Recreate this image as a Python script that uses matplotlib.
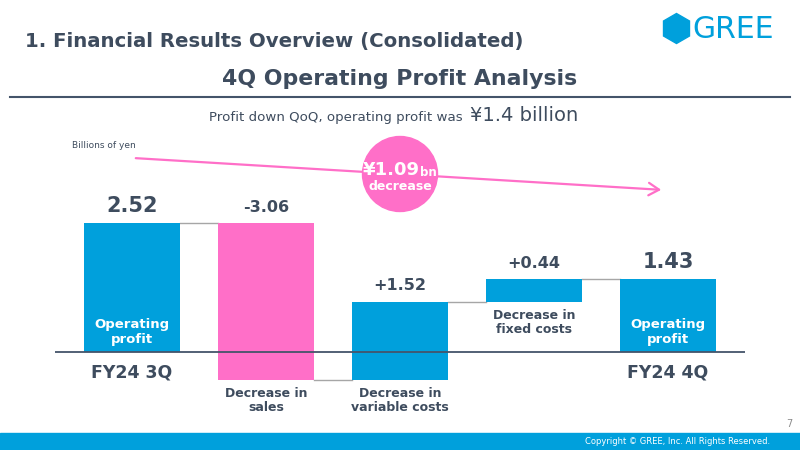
import matplotlib.pyplot as plt
from matplotlib.patches import Circle, RegularPolygon, Rectangle, FancyArrowPatch

plt.rcParams['font.family'] = ['DejaVu Sans']

BLUE = '#00A0DC'
PINK = '#FF6FC8'
TXT = '#3E4C5E'
GRAY = '#A6A6A6'

# data
categories = ['FY24 3Q', 'Decrease in\nsales', 'Decrease in\nvariable costs',
              'Decrease in\nfixed costs', 'FY24 4Q']
values = [2.52, -3.06, 1.52, 0.44, 1.43]
value_labels = ['2.52', '-3.06', '+1.52', '+0.44', '1.43']
is_total = [True, False, False, False, True]
bar_colors = [BLUE, PINK, BLUE, BLUE, BLUE]

# waterfall bottoms / heights
bottoms, heights, ends = [], [], []
run = 0.0
for v, t in zip(values, is_total):
    start = 0.0 if t else run
    end = v if t else run + v
    bottoms.append(min(start, end))
    heights.append(abs(v))
    ends.append(end)
    run = end

fig = plt.figure(figsize=(8, 4.5), dpi=100)

# slide background layer in pixel coords
bg = fig.add_axes([0, 0, 1, 1], zorder=0)
bg.set_xlim(0, 800)
bg.set_ylim(450, 0)
bg.axis('off')

# chart layer
px = 51.2
ax = fig.add_axes([55 / 800, 1 - 420 / 450, 690 / 800, 270 / 450], zorder=1)
ax.patch.set_alpha(0)
ax.set_xlim((55 - 132) / 134, (745 - 132) / 134)
ax.set_ylim(-(420 - 352) / px, (352 - 150) / px)
ax.axis('off')

x = list(range(len(values)))
w = 0.715
ax.bar(x, heights, bottom=bottoms, width=w, color=bar_colors, zorder=2)
ax.axhline(0, color='#44546A', lw=1.3, zorder=3)

# connectors
for i in range(len(values) - 1):
    ax.plot([i + w / 2, i + 1 - w / 2], [ends[i], ends[i]], color=GRAY, lw=1, zorder=1)

# value labels
for i in range(len(values)):
    top = bottoms[i] + heights[i]
    big = is_total[i]
    ax.annotate(value_labels[i], (i, top), xytext=(0, 5 if big else 6),
                textcoords='offset points', ha='center', va='bottom',
                fontsize=15 if big else 11.5, fontweight='bold', color=TXT)

# category labels
for i in range(len(values)):
    if is_total[i]:
        ax.text(i, 0.39, 'Operating\nprofit', ha='center', va='center',
                fontsize=9.5, fontweight='bold', color='white', linespacing=1.15)
        ax.annotate(categories[i], (i, 0), xytext=(0, -8), textcoords='offset points',
                    ha='center', va='top', fontsize=12.5, fontweight='bold', color=TXT)
    else:
        ax.annotate(categories[i], (i, bottoms[i]), xytext=(0, -5),
                    textcoords='offset points', ha='center', va='top',
                    fontsize=9, fontweight='bold', color=TXT, linespacing=1.15)

# header
bg.text(25, 41, '1. Financial Results Overview (Consolidated)', ha='left', va='center',
        fontsize=14.2, fontweight='bold', color=TXT)
bg.text(400, 79, '4Q Operating Profit Analysis', ha='center', va='center',
        fontsize=15.8, fontweight='bold', color=TXT)
bg.plot([10, 790], [97, 97], color='#44546A', lw=1.5)
bg.text(467, 121, 'Profit down QoQ, operating profit was ', ha='right', va='baseline',
        fontsize=9.6, color=TXT)
bg.text(470, 121, '¥1.4 billion', ha='left', va='baseline', fontsize=14, color=TXT)

# logo
bg.add_patch(RegularPolygon((676.5, 28.5), 6, radius=15, orientation=0, color=BLUE))
bg.text(692, 29, 'GREE', ha='left', va='center', fontsize=21.5, color=BLUE)

# units
bg.text(72, 146, 'Billions of yen', ha='left', va='center', fontsize=6.5, color=TXT)

# trend arrow + circle
bg.add_patch(FancyArrowPatch((133, 158), (664, 190), arrowstyle='->,head_length=5,head_width=3',
                             color=PINK, lw=1.6, mutation_scale=1.5))
bg.add_patch(Circle((400, 174), 37.5, color=PINK, zorder=3))
bg.text(420, 170, '¥1.09', ha='right', va='center', fontsize=13, fontweight='bold',
        color='white', zorder=4)
bg.text(420, 173, 'bn', ha='left', va='center', fontsize=8.5, fontweight='bold',
        color='white', zorder=4)
bg.text(400, 187, 'decrease', ha='center', va='center', fontsize=9, fontweight='bold',
        color='white', zorder=4)

# footer
bg.add_patch(Rectangle((0, 433), 800, 17, color=BLUE))
bg.text(770, 442, 'Copyright © GREE, Inc. All Rights Reserved.', ha='right', va='center',
        fontsize=6, color='white')
bg.text(789, 424, '7', ha='center', va='center', fontsize=7, color='#8C8C8C')

fig.savefig('out.png', dpi=100)
